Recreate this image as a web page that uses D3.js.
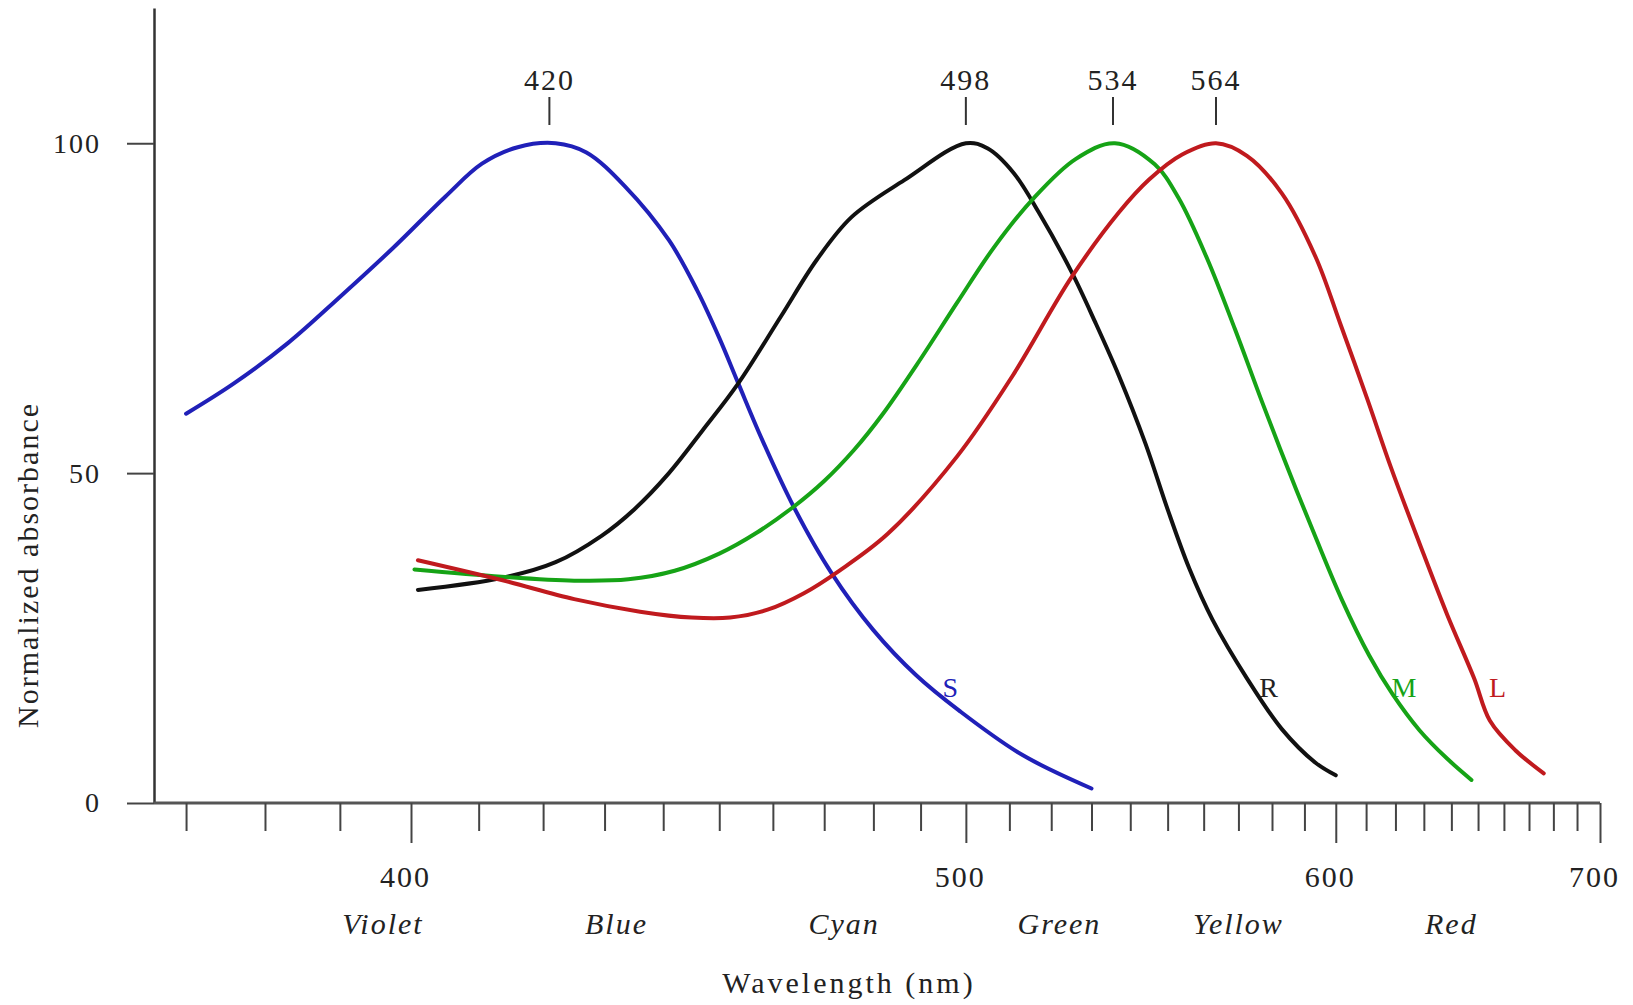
<!DOCTYPE html>
<html>
<head>
<meta charset="utf-8">
<script src="https://cdnjs.cloudflare.com/ajax/libs/d3/7.8.5/d3.min.js"></script>
<style>
    body { margin: 0; background: #fff; }
    text { font-family: "Liberation Serif", "DejaVu Serif", serif; fill: #222; }
</style>
</head>
<body>
<svg id="chart" width="1633" height="1005"></svg>
<script>
// Absorbance curves: wavelength (nm) and normalized absorbance (%)
var sWl  = [370, 376, 383, 390, 397.5, 405, 410.5, 416, 422, 427, 433.5, 441, 446, 450, 453.5, 458, 464, 471.5, 480, 489, 498.5, 513, 530];
var sVal = [59, 63.6, 69.7, 76.7, 84.2, 91.9, 96.9, 99.4, 100, 98.6, 93.4, 85.3, 77.7, 70.5, 63.6, 55, 44.9, 34.8, 26.2, 19.4, 14, 7.3, 2.2];

var rWl  = [401, 413.5, 422, 429.5, 435, 441, 447, 453.5, 461.5, 468.5, 475.5, 486.5, 500, 505, 511, 517, 525, 531, 537, 544, 550, 556, 562.5, 572.5, 583, 593.5, 600];
var rVal = [32.3, 34.1, 36.5, 40.5, 44.5, 50, 56.5, 63.6, 73.7, 82.3, 88.8, 94.4, 100, 99.2, 95.5, 89.5, 80.5, 72.8, 64.8, 54.5, 44.5, 35.5, 27.8, 18.9, 11.2, 6.1, 4.2];

var mWl  = [400.5, 413.5, 425, 434, 442, 450, 457, 464, 470, 476, 482, 490, 498, 506.5, 515.5, 526, 536, 546.5, 553, 561, 569, 577, 585, 593.5, 602, 611, 619, 628.5, 638.5, 647.5];
var mVal = [35.4, 34.3, 33.7, 33.9, 35.2, 37.8, 41, 44.9, 48.8, 53.5, 59, 67.3, 75.8, 84.3, 91.5, 97.6, 100, 96.8, 91.7, 82.5, 71.8, 60.8, 50.5, 40.3, 30.8, 22.4, 16.5, 11, 6.7, 3.5];

var lWl  = [401, 413.5, 425, 436, 445, 452, 459, 466, 473, 483, 498, 510.5, 525, 537, 545, 554, 563.5, 572.5, 583, 593.5, 601.5, 610.5, 618.5, 628.5, 638.5, 648.5, 654.5, 664.5, 676];
var lVal = [36.8, 33.8, 30.9, 29, 28.1, 28.1, 29.3, 31.8, 35.2, 40.8, 52.5, 64.5, 79.7, 89.5, 94.5, 98.3, 100, 98.1, 92.4, 82.8, 72.6, 61.1, 50.8, 39.3, 28.5, 18.9, 12.5, 8, 4.5];

// curve names and where their letters sit
var curveNames = ['S', 'R', 'M', 'L'];
var curveLabelWl = [496.5, 579, 623, 657.5];
var curveLabelVal = 17.6;

// peak markers along the top
var peakWl = [421, 500, 535.5, 563.5];
var peakText = ['420', '498', '534', '564'];

// colour band names under the axis
var bandNames = ['Violet', 'Blue', 'Cyan', 'Green', 'Yellow', 'Red'];
var bandWl = [396, 432, 474, 522, 570, 640];

// axis ticks
var majorTicks = [400, 500, 600, 700];
var minorTicks = d3.range(370, 700, 10).filter(function (d) { return majorTicks.indexOf(d) < 0; });
var yTicks = [0, 50, 100];

var colors = { S: '#2020b8', R: '#111111', M: '#16a316', L: '#c01a1e' };

var svg = d3.select('#chart');
var axisX = 154;

// x is linear in wavenumber (1/wavelength)
var x = d3.scalePow().exponent(-1).domain([400, 700]).range([411, 1600]);
var y = d3.scaleLinear().domain([0, 120.5]).range([803, 8]);

// y axis
var yAxis = d3.axisLeft(y).tickValues(yTicks).tickSize(27).tickSizeOuter(0).tickPadding(26);
svg.append('g')
    .attr('transform', 'translate(' + axisX + ',0)')
    .call(yAxis)
    .call(function (g) {
        g.select('.domain').attr('stroke', '#333').attr('stroke-width', 2.5);
        g.selectAll('.tick line').attr('stroke', '#444').attr('stroke-width', 2);
        g.selectAll('.tick text').attr('font-size', 28).attr('letter-spacing', 2)
            .attr('font-family', '"Liberation Serif", serif').attr('fill', '#222');
    });

// x axis: baseline, minor and major ticks
svg.append('line')
    .attr('x1', axisX).attr('x2', x(700))
    .attr('y1', y(0)).attr('y2', y(0))
    .attr('stroke', '#555').attr('stroke-width', 3);

svg.append('g')
    .attr('transform', 'translate(0,' + y(0) + ')')
    .call(d3.axisBottom(x).tickValues(minorTicks).tickSize(28).tickFormat(''))
    .call(function (g) {
        g.select('.domain').remove();
        g.selectAll('.tick line').attr('stroke', '#444').attr('stroke-width', 2);
    });

svg.append('g')
    .attr('transform', 'translate(0,' + y(0) + ')')
    .call(d3.axisBottom(x).tickValues(majorTicks).tickSize(40).tickPadding(23).tickFormat(d3.format('d')))
    .call(function (g) {
        g.select('.domain').remove();
        g.selectAll('.tick line').attr('stroke', '#444').attr('stroke-width', 2);
        g.selectAll('.tick text').attr('x', -6).attr('font-size', 30).attr('letter-spacing', 2)
            .attr('font-family', '"Liberation Serif", serif').attr('fill', '#222');
    });

// colour band names
svg.selectAll('.band')
    .data(bandNames)
    .enter().append('text')
    .attr('class', 'band')
    .attr('x', function (d, i) { return x(bandWl[i]); })
    .attr('y', 934)
    .attr('text-anchor', 'middle')
    .attr('font-size', 30)
    .attr('font-style', 'italic')
    .attr('letter-spacing', 2)
    .text(function (d) { return d; });

// axis titles
svg.append('text')
    .attr('x', 849).attr('y', 993)
    .attr('text-anchor', 'middle')
    .attr('font-size', 30)
    .attr('letter-spacing', 3)
    .text('Wavelength (nm)');

svg.append('text')
    .attr('transform', 'translate(38,565) rotate(-90)')
    .attr('text-anchor', 'middle')
    .attr('font-size', 30)
    .attr('letter-spacing', 2)
    .text('Normalized absorbance');

// curves
var series = [
    { key: 'S', wl: sWl, val: sVal },
    { key: 'R', wl: rWl, val: rVal },
    { key: 'M', wl: mWl, val: mVal },
    { key: 'L', wl: lWl, val: lVal }
];

var line = d3.line()
    .x(function (d) { return x(d[0]); })
    .y(function (d) { return y(d[1]); })
    .curve(d3.curveCatmullRom.alpha(0.5));

svg.append('g').selectAll('path')
    .data(series)
    .enter().append('path')
    .attr('fill', 'none')
    .attr('stroke', function (d) { return colors[d.key]; })
    .attr('stroke-width', 4)
    .attr('stroke-linecap', 'round')
    .attr('d', function (d) { return line(d3.zip(d.wl, d.val)); });

// curve letters
svg.selectAll('.curve-label')
    .data(curveNames)
    .enter().append('text')
    .attr('class', 'curve-label')
    .attr('x', function (d, i) { return x(curveLabelWl[i]); })
    .attr('y', y(curveLabelVal))
    .attr('dy', '0.35em')
    .attr('text-anchor', 'middle')
    .attr('font-size', 28)
    .style('fill', function (d) { return colors[d] === '#111111' ? '#222' : colors[d]; })
    .text(function (d) { return d; });

// peak markers
var peaks = svg.append('g').selectAll('g')
    .data(peakText)
    .enter().append('g')
    .attr('transform', function (d, i) { return 'translate(' + x(peakWl[i]) + ',0)'; });

peaks.append('line')
    .attr('y1', 97).attr('y2', 125)
    .attr('stroke', '#333').attr('stroke-width', 2);

peaks.append('text')
    .attr('y', 90)
    .attr('text-anchor', 'middle')
    .attr('font-size', 30)
    .attr('letter-spacing', 2)
    .text(function (d) { return d; });
</script>
</body>
</html>
